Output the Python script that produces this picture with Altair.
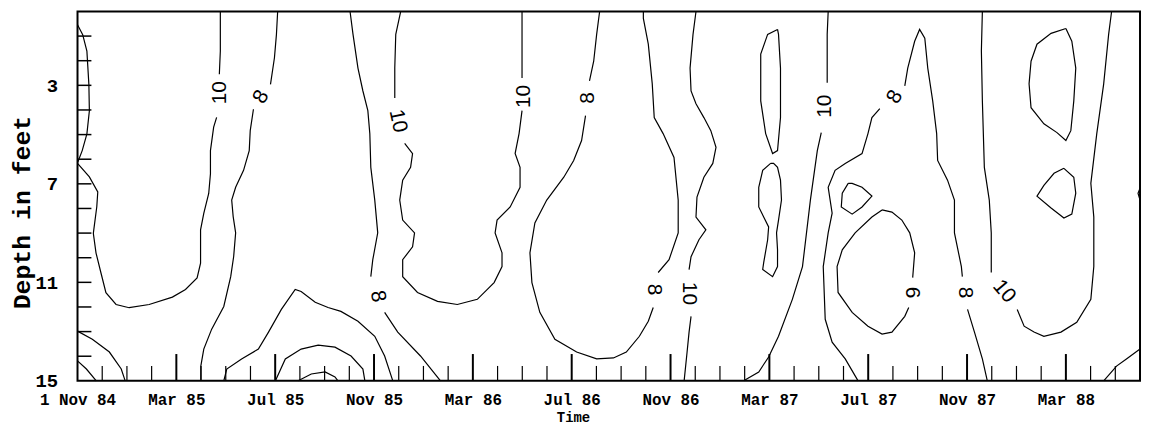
import altair as alt
import pandas as pd

# ---------------- axis data ----------------
X_TICK_MONTHS = [0, 4, 8, 12, 16, 20, 24, 28, 32, 36, 40]   # months after 1 Nov 84
X_TICK_LABELS = ["1 Nov 84", "Mar 85", "Jul 85", "Nov 85", "Mar 86", "Jul 86",
                 "Nov 86", "Mar 87", "Jul 87", "Nov 87", "Mar 88"]
X_MINOR_MONTHS = [m for m in range(1, 43) if m % 4 != 0]
Y_TICK_DEPTHS = [3, 7, 11, 15]
Y_MINOR_DEPTHS = list(range(1, 15))

# ---------------- contour lines (month, depth ft) ----------------
A_M = [0.0, 0.21, 0.38, 0.46, 0.48, 0.38, 0.19, 0.01]
A_D = [0.54, 0.94, 1.61, 2.96, 4.03, 4.97, 5.65, 6.12]

B1_M = [0.01, 0.48, 0.82, 0.78, 0.64, 0.75, 0.95, 1.15, 1.56, 2.09, 2.90, 3.84, 4.37,
        4.84, 4.98, 4.98, 5.11, 5.31, 5.38, 5.38, 5.51, 5.63]
B1_D = [6.18, 6.72, 7.33, 7.93, 9.01, 9.81, 10.62, 11.42, 11.90, 12.03, 11.90, 11.60,
        11.29, 10.82, 10.22, 8.87, 8.20, 7.39, 6.59, 5.65, 4.70, 4.30]
B2_M = [5.74, 5.78, 5.78, 5.78]
B2_D = [2.55, 1.61, 0.67, 0.0]

C1_M = [8.10, 8.05, 7.97, 7.81]
C1_D = [0.0, 0.94, 1.88, 2.96]
C2_M = [7.12, 6.99, 6.95, 6.72, 6.40, 6.24, 6.30, 6.40, 6.32, 6.20, 5.92, 5.43, 5.11, 4.99, 4.99]
C2_D = [3.97, 4.84, 5.65, 6.45, 7.14, 7.66, 8.33, 8.99, 9.95, 10.77, 11.98, 12.90, 13.71, 14.40, 15.0]

D_M = [5.92, 6.04, 6.64, 7.32, 7.73, 8.25, 8.81, 9.05, 9.62, 10.14, 10.66, 11.35, 12.03, 12.43, 12.76]
D_D = [15.0, 14.52, 14.11, 13.71, 13.02, 12.10, 11.29, 11.37, 11.81, 12.02, 12.18, 12.58, 13.19, 13.99, 15.0]

E_M = [8.01, 8.41, 9.05, 9.74, 10.42, 11.07, 11.55, 11.63]
E_D = [15.0, 14.11, 13.71, 13.55, 13.63, 13.99, 14.52, 15.0]

F_M = [8.93, 9.46, 10.02, 10.42, 10.54]
F_D = [15.0, 14.72, 14.64, 14.84, 15.0]

G1_M = [0.0, 0.60, 1.29, 1.77, 1.93]
G1_D = [12.98, 13.31, 13.83, 14.52, 15.0]
G2_M = [0.0, 0.36, 0.76]
G2_D = [14.19, 14.52, 15.0]

H1_M = [11.03, 11.15, 11.35, 11.55, 11.75, 11.83, 11.87, 12.03, 12.15, 11.95, 11.87]
H1_D = [0.0, 0.93, 2.30, 3.23, 4.03, 4.96, 6.33, 7.66, 8.99, 10.08, 10.77]
H2_M = [12.43, 12.96, 13.88, 14.69]
H2_D = [12.22, 13.02, 13.99, 15.0]

I1_M = [13.08, 12.88, 12.84, 12.84]
I1_D = [0.0, 0.93, 2.30, 3.51]
I2_M = [13.24, 13.56, 13.48, 13.16, 13.04, 13.16, 13.64, 13.56, 13.16, 13.16, 13.76, 14.57,
        15.37, 16.18, 16.86, 17.18, 17.18, 16.90, 16.98, 17.51, 17.91, 17.91, 17.71, 17.87, 17.99]
I2_D = [5.36, 5.77, 6.33, 6.85, 7.66, 8.47, 8.99, 9.56, 10.08, 10.77, 11.41, 11.77,
        11.90, 11.69, 11.01, 10.36, 9.80, 8.99, 8.47, 7.94, 7.14, 6.33, 5.77, 4.96, 4.03]
I3_M = [17.99, 17.99, 17.99]
I3_D = [2.70, 0.93, 0.0]

J1_M = [21.13, 21.01, 20.89, 20.72]
J1_D = [0.0, 0.93, 2.02, 2.82]
J2_M = [20.56, 20.40, 20.08, 19.68, 18.99, 18.51, 18.31, 18.39, 18.71, 19.32, 20.20, 21.01,
        21.69, 22.21, 22.74, 23.10, 23.30]
J2_D = [4.23, 5.24, 6.05, 6.73, 7.66, 8.59, 9.80, 11.01, 12.22, 13.31, 13.83, 14.11,
        14.07, 13.83, 13.19, 12.58, 12.02]
J3_M = [23.50, 23.94, 24.31, 24.31, 24.14, 23.70, 23.34, 23.26, 23.10, 22.90, 22.90]
J3_D = [10.60, 10.08, 8.99, 7.66, 5.93, 4.96, 4.31, 2.94, 1.33, 0.28, 0.0]

K1_M = [25.03, 24.91, 24.79, 24.83, 25.03, 25.35, 25.63, 25.84, 25.71, 25.35, 25.07, 25.03,
        25.43, 25.15, 24.83, 24.75]
K1_D = [0.0, 0.93, 2.30, 3.23, 3.75, 4.31, 4.84, 5.52, 6.17, 6.73, 7.54, 8.35,
        8.87, 9.27, 9.96, 10.48]
K2_M = [24.83, 24.75, 24.67, 24.55]
K2_D = [12.38, 13.02, 13.83, 15.0]

N1_M = [26.96, 27.57, 27.97, 28.37, 28.93, 29.34, 29.66, 29.94, 30.10]
N1_D = [15.0, 14.64, 14.03, 13.19, 11.69, 10.36, 7.66, 5.65, 4.92]
N2_M = [30.34, 30.34, 30.38]
N2_D = [2.90, 0.93, 0.0]

O1_M = [28.33, 27.93, 27.65, 27.65, 27.85, 28.13, 28.33, 28.45, 28.45, 28.37, 28.33]
O1_D = [0.73, 0.93, 1.73, 3.63, 4.96, 5.77, 5.65, 4.31, 2.30, 0.93, 0.73]
O2_M = [28.05, 27.73, 27.57, 27.57, 27.77, 27.97, 27.93, 27.77, 27.73, 28.13, 28.33, 28.33,
        28.29, 28.37, 28.49, 28.45, 28.33, 28.17, 28.05]
O2_D = [6.17, 6.45, 7.14, 7.94, 8.35, 8.75, 9.27, 10.20, 10.48, 10.77, 10.36, 9.68,
        8.99, 8.47, 7.66, 6.85, 6.33, 6.17, 6.17]

L1_M = [31.59, 31.07, 30.54, 30.26, 30.18, 30.38, 30.54, 30.38, 30.66, 31.07, 31.75, 31.99, 32.15, 32.47]
L1_D = [15.0, 14.11, 13.43, 12.50, 10.36, 8.99, 8.19, 7.14, 6.45, 6.17, 5.77, 4.96, 4.31, 3.95]
L2_M = [33.48, 33.60, 33.88, 34.08, 34.29, 34.41, 34.61, 34.77, 34.81, 35.21, 35.49, 35.49, 35.77, 35.81]
L2_D = [3.02, 2.30, 1.21, 0.73, 1.09, 2.30, 3.63, 4.96, 6.05, 6.85, 7.66, 8.99, 10.36, 10.77]
L3_M = [36.02, 36.30, 36.62, 36.82]
L3_D = [12.10, 13.02, 14.11, 15.0]

T1_M = [31.19, 30.95, 30.91, 31.35, 31.75, 32.15, 31.75, 31.35, 31.19]
T1_D = [6.98, 7.38, 7.94, 8.23, 7.94, 7.50, 7.14, 6.98, 6.98]

S1_M = [32.56, 32.15, 31.47, 30.95, 30.74, 30.78, 31.35, 31.99, 32.56, 32.96, 33.48, 33.64]
S1_D = [8.06, 8.35, 8.99, 9.68, 10.36, 11.41, 12.22, 12.78, 13.10, 13.02, 12.38, 12.02]
S2_M = [33.80, 33.88, 33.68, 33.36, 32.96, 32.56]
S2_D = [10.81, 9.80, 8.99, 8.47, 8.15, 8.06]

M1_M = [36.62, 36.58, 36.62, 36.70, 36.90, 36.98, 36.98]
M1_D = [0.0, 1.61, 3.63, 6.33, 7.66, 8.99, 10.60]
M2_M = [38.03, 38.31, 38.71, 39.11, 39.80, 40.44, 41.01, 41.13, 41.13, 41.01, 41.25, 41.53, 41.73, 41.85]
M2_D = [12.10, 12.78, 13.02, 13.19, 13.02, 12.62, 11.69, 10.36, 8.35, 6.98, 4.96, 2.94, 0.93, 0.0]

P1_M = [40.0, 39.40, 38.83, 38.59, 38.51, 38.59, 39.11, 39.64, 40.0, 40.20, 40.32, 40.40, 40.24, 40.0]
P1_D = [0.69, 0.89, 1.33, 2.02, 2.94, 3.91, 4.56, 4.92, 5.24, 4.84, 3.63, 2.30, 1.21, 0.69]
P2_M = [39.92, 39.52, 39.11, 38.83, 39.40, 39.92, 40.24, 40.40, 40.32, 39.92]
P2_D = [6.37, 6.57, 7.06, 7.50, 7.98, 8.39, 8.23, 7.38, 6.73, 6.37]

Q1_M = [41.53, 42.05, 42.45, 43.0]
Q1_D = [15.0, 14.40, 14.11, 13.71]
Q2_M = [43.0, 42.92, 43.0]
Q2_D = [7.18, 7.38, 7.66]

SEGMENTS = [
    ("A", A_M, A_D), ("B1", B1_M, B1_D), ("B2", B2_M, B2_D), ("C1", C1_M, C1_D),
    ("C2", C2_M, C2_D), ("D", D_M, D_D), ("E", E_M, E_D), ("F", F_M, F_D),
    ("G1", G1_M, G1_D), ("G2", G2_M, G2_D), ("H1", H1_M, H1_D), ("H2", H2_M, H2_D),
    ("I1", I1_M, I1_D), ("I2", I2_M, I2_D), ("I3", I3_M, I3_D), ("J1", J1_M, J1_D),
    ("J2", J2_M, J2_D), ("J3", J3_M, J3_D), ("K1", K1_M, K1_D), ("K2", K2_M, K2_D),
    ("N1", N1_M, N1_D), ("N2", N2_M, N2_D), ("O1", O1_M, O1_D), ("O2", O2_M, O2_D),
    ("L1", L1_M, L1_D), ("L2", L2_M, L2_D), ("L3", L3_M, L3_D), ("T1", T1_M, T1_D),
    ("S1", S1_M, S1_D), ("S2", S2_M, S2_D), ("M1", M1_M, M1_D), ("M2", M2_M, M2_D),
    ("P1", P1_M, P1_D), ("P2", P2_M, P2_D), ("Q1", Q1_M, Q1_D), ("Q2", Q2_M, Q2_D),
]

# contour labels: text, month, depth, angle
LABEL_TEXT = ["10", "8", "10", "8", "10", "8", "8", "10", "10", "8", "6", "8", "10"]
LABEL_M = [5.75, 7.44, 12.96, 12.15, 18.07, 20.68, 23.34, 24.75, 30.26, 33.08, 33.76, 35.90, 37.50]
LABEL_D = [3.30, 3.47, 4.45, 11.57, 3.45, 3.51, 11.29, 11.45, 3.85, 3.47, 11.41, 11.41, 11.37]
LABEL_ANGLE = [270, 300, 78, 80, 270, 270, 90, 90, 270, 300, 90, 90, 50]

# ---------------- build tables ----------------
rows = []
for name, ms, ds in SEGMENTS:
    for i, (m, d) in enumerate(zip(ms, ds)):
        rows.append({"seg": name, "i": i, "m": m, "d": d})
lines_df = pd.DataFrame(rows)
labels_df = pd.DataFrame({"t": LABEL_TEXT, "m": LABEL_M, "d": LABEL_D, "a": LABEL_ANGLE})
major_df = pd.DataFrame({"m": X_TICK_MONTHS[1:]})
minor_df = pd.DataFrame({"m": X_MINOR_MONTHS})
yt_df = pd.DataFrame({"d": Y_MINOR_DEPTHS})

MONO = "Liberation Mono, DejaVu Sans Mono, monospace"
W, H = 1070, 372

expr = ""
for v, lab in zip(X_TICK_MONTHS, X_TICK_LABELS):
    expr += f"datum.value == {v} ? '{lab}' : "
expr += "''"

x_scale = alt.Scale(domain=[0, 43], nice=False, zero=False)
y_scale = alt.Scale(domain=[0, 15], reverse=True, nice=False, zero=False)

x_axis = alt.Axis(values=X_TICK_MONTHS, labelExpr=expr, labelFont=MONO, labelFontSize=16,
                  labelFontWeight="bold", labelColor="black", labelPadding=11,
                  labelFlush=False, labelOverlap=False, ticks=False, domain=False, grid=False,
                  title="Time", titleFont=MONO, titleFontSize=14, titleFontWeight="bold",
                  titleColor="black", titleX=499, titleY=30, titleAlign="center",
                  titleBaseline="top")
y_axis = alt.Axis(values=Y_TICK_DEPTHS, format="d", labelFont=MONO, labelFontSize=19,
                  labelFontWeight="bold", labelColor="black", labelPadding=20,
                  labelFlush=False, labelOverlap=False, ticks=False, domain=False, grid=False,
                  title="Depth in feet", titleFont=MONO, titleFontSize=25,
                  titleFontWeight="bold", titleColor="black", titleX=-56, titleY=202,
                  titleAngle=270, titleAlign="center", titleBaseline="middle")

X = alt.X("m:Q", scale=x_scale, axis=x_axis)
Y = alt.Y("d:Q", scale=y_scale, axis=y_axis)

lines = alt.Chart(lines_df).mark_line(color="black", strokeWidth=1.2).encode(
    x=X, y=Y, detail="seg:N", order="i:Q")

labels = alt.Chart(labels_df).mark_text(
    font="Liberation Sans, DejaVu Sans, sans-serif", fontSize=21, color="black",
    align="center", baseline="middle").encode(
    x=X, y=Y, text="t:N", angle=alt.Angle("a:Q", scale=None))

major_ticks = alt.Chart(major_df).mark_rule(color="black", strokeWidth=2).encode(
    x=X, y=alt.value(H), y2=alt.value(H - 27))
minor_ticks = alt.Chart(minor_df).mark_rule(color="black", strokeWidth=1.2).encode(
    x=X, y=alt.value(H), y2=alt.value(H - 15))
y_ticks = alt.Chart(yt_df).mark_rule(color="black", strokeWidth=1.5).encode(
    y=Y, x=alt.value(0), x2=alt.value(14))

chart = alt.layer(lines, labels, major_ticks, minor_ticks, y_ticks).properties(
    width=W, height=H,
    autosize=alt.AutoSizeParams(type="none"),
    padding={"left": 70, "top": 2, "right": 2, "bottom": 45},
    background="white",
).configure_view(stroke="black", strokeWidth=2)

chart.save("out.html", embed_options={"renderer": "svg", "actions": False})
